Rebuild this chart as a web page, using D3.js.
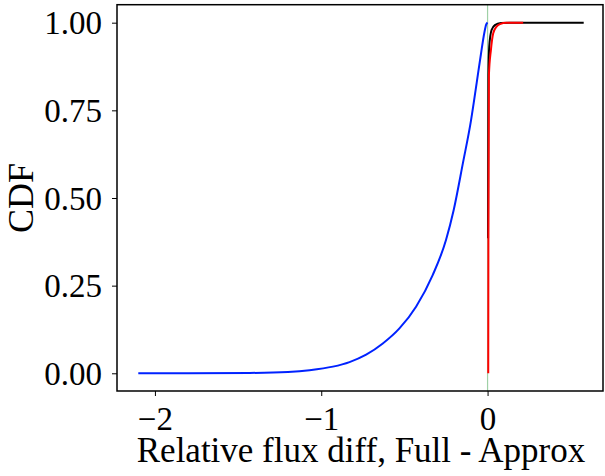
<!DOCTYPE html>
<html>
<head>
<meta charset="utf-8">
<script src="https://cdn.jsdelivr.net/npm/d3@7"></script>
<style>
  body { margin: 0; background: #fff; }
  text { font-family: "Liberation Serif", "DejaVu Serif", serif; fill: #000; }
</style>
</head>
<body>
<svg id="chart" width="605" height="476"></svg>
<script>
// CDF curves
const blueX = [-2.10, -1.80, -1.43, -1.20, -1.07, -0.93, -0.83, -0.73, -0.63, -0.53, -0.43, -0.33, -0.25, -0.204, -0.148, -0.10, -0.065, -0.04, -0.02, -0.008, 0.0];
const blueY = [0.000, 0.000, 0.001, 0.004, 0.009, 0.019, 0.032, 0.053, 0.085, 0.128, 0.190, 0.280, 0.380, 0.465, 0.600, 0.720, 0.830, 0.910, 0.970, 0.995, 1.0];

const blackX = [0.003, 0.005, 0.010, 0.024, 0.044, 0.08, 0.15, 0.578];
const blackY = [0.385, 0.85, 0.932, 0.979, 0.993, 0.999, 1.0, 1.0];

const redX = [0.004, 0.005, 0.008, 0.020, 0.034, 0.054, 0.074, 0.114, 0.214];
const redY = [0.0, 0.40, 0.85, 0.922, 0.970, 0.989, 0.996, 1.0, 1.0];

const xTicks = [-2, -1, 0];
const yTicks = [0, 0.25, 0.5, 0.75, 1.0];

const svg = d3.select("#chart"),
    margin = { top: 4.7, right: 2, bottom: 85, left: 117 },
    width = +svg.attr("width"),
    height = +svg.attr("height"),
    innerWidth = width - margin.left - margin.right,
    innerHeight = height - margin.top - margin.bottom;

const g = svg.append("g").attr("transform", `translate(${margin.left},${margin.top})`);

const x = d3.scaleLinear().domain([-2.228, 0.694]).range([0, innerWidth]);
const y = d3.scaleLinear().domain([-0.0505, 1.0513]).range([innerHeight, 0]);

// zero line
g.append("line")
    .attr("x1", x(0)).attr("x2", x(0))
    .attr("y1", 0).attr("y2", innerHeight)
    .attr("stroke", "#9fd0a6")
    .attr("stroke-width", 1.2);

const line = d3.line().curve(d3.curveMonotoneX);

function series(xs, ys, color) {
    g.append("path")
        .attr("d", line(xs.map((v, i) => [x(v), y(ys[i])])))
        .attr("fill", "none")
        .attr("stroke", color)
        .attr("stroke-width", 2);
}

series(blueX, blueY, "#0022ff");
series(blackX, blackY, "#000");
series(redX, redY, "#ff0000");

// axes
const xAxis = g.append("g")
    .attr("transform", `translate(0,${innerHeight})`)
    .call(d3.axisBottom(x).tickValues(xTicks).tickSize(5).tickSizeOuter(0)
        .tickFormat(d => d3.format("d")(d).replace("-", "\u2212")));
xAxis.selectAll("text").attr("font-size", 33).attr("y", 39).attr("dy", 0);

const yAxis = g.append("g")
    .call(d3.axisLeft(y).tickValues(yTicks).tickSize(5).tickSizeOuter(0)
        .tickFormat(d3.format(".2f")));
yAxis.selectAll("text").attr("font-size", 33).attr("x", -15).attr("dy", "0.34em");

svg.selectAll(".domain").remove();
svg.selectAll(".tick line").attr("stroke", "#000").attr("stroke-width", 1);
svg.selectAll(".tick text").style("font-family", "'Liberation Serif', 'DejaVu Serif', serif");

// frame
g.append("rect")
    .attr("width", innerWidth).attr("height", innerHeight)
    .attr("fill", "none").attr("stroke", "#000").attr("stroke-width", 1.5);

// labels
svg.append("text")
    .attr("x", 361)
    .attr("y", 462)
    .attr("text-anchor", "middle")
    .attr("font-size", 35)
    .text("Relative flux diff, Full - Approx");

svg.append("text")
    .attr("transform", `translate(33,${y(0.5) + margin.top}) rotate(-90)`)
    .attr("text-anchor", "middle")
    .attr("font-size", 36)
    .text("CDF");
</script>
</body>
</html>
